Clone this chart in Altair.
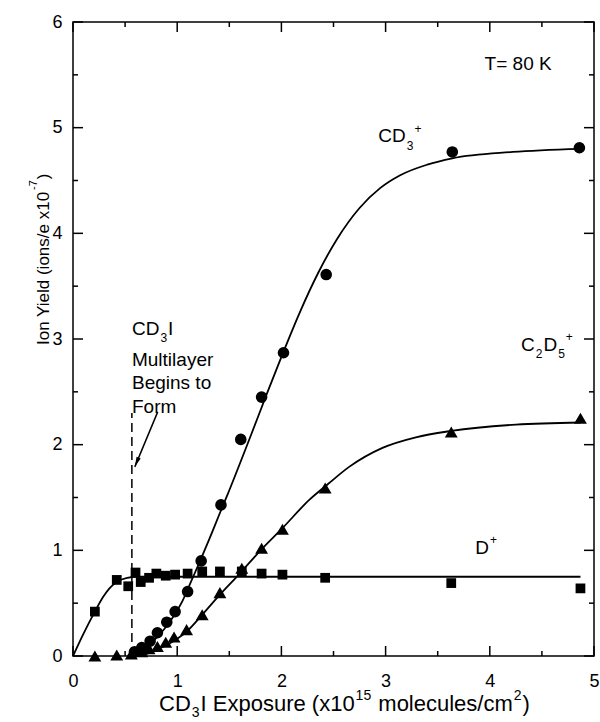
import math
import altair as alt
import pandas as pd

FONT = "Liberation Sans"

# ---------------- data ----------------
# CD3+ (circles)
cd3_x = [0.59, 0.66, 0.74, 0.81, 0.90, 0.98, 1.10, 1.23, 1.42, 1.61, 1.81, 2.02, 2.43, 3.64, 4.86]
cd3_y = [0.04, 0.08, 0.14, 0.22, 0.32, 0.42, 0.61, 0.90, 1.43, 2.05, 2.45, 2.87, 3.61, 4.77, 4.81]
# C2D5+ (triangles)
c2d5_x = [0.21, 0.42, 0.56, 0.66, 0.73, 0.81, 0.89, 0.97, 1.09, 1.24, 1.41, 1.62, 1.81, 2.01, 2.42, 3.63, 4.87]
c2d5_y = [0.00, 0.01, 0.02, 0.04, 0.07, 0.09, 0.13, 0.18, 0.25, 0.39, 0.60, 0.83, 1.02, 1.20, 1.59, 2.12, 2.25]
# D+ (squares)
dp_x = [0.21, 0.42, 0.53, 0.60, 0.65, 0.73, 0.80, 0.89, 0.98, 1.10, 1.24, 1.41, 1.62, 1.81, 2.01, 2.42, 3.63, 4.87]
dp_y = [0.42, 0.72, 0.66, 0.79, 0.70, 0.74, 0.78, 0.76, 0.77, 0.78, 0.80, 0.80, 0.80, 0.78, 0.77, 0.74, 0.69, 0.64]

# fitted curves
cd3_fit_x = [0.55, 0.65, 0.77, 0.88, 0.96, 1.05, 1.14, 1.22, 1.31, 1.40, 1.48, 1.70, 1.86, 2.02, 2.18,
             2.35, 2.53, 2.75, 2.95, 3.14, 3.40, 3.64, 4.22, 4.86]
cd3_fit_y = [0.00, 0.04, 0.14, 0.26, 0.37, 0.52, 0.72, 0.90, 1.11, 1.33, 1.52, 2.07, 2.48, 2.88, 3.26,
             3.62, 3.94, 4.24, 4.43, 4.55, 4.65, 4.71, 4.77, 4.80]
c2d5_fit_x = [0.58, 0.70, 0.77, 0.85, 0.93, 1.01, 1.09, 1.24, 1.41, 1.60, 1.80, 2.01, 2.27, 2.45, 2.65,
              2.97, 3.29, 3.63, 4.25, 4.87]
c2d5_fit_y = [0.00, 0.02, 0.04, 0.08, 0.12, 0.17, 0.23, 0.39, 0.58, 0.78, 1.00, 1.21, 1.48, 1.63, 1.79,
              1.97, 2.07, 2.13, 2.19, 2.21]
dp_fit_x = [0.00, 0.10, 0.21, 0.29, 0.35, 0.42, 0.52, 0.62, 1.00, 2.00, 3.00, 4.87]
dp_fit_y = [0.00, 0.21, 0.42, 0.56, 0.64, 0.70, 0.74, 0.75, 0.75, 0.75, 0.75, 0.75]

# axis ticks
x_major = [0, 1, 2, 3, 4, 5]
x_minor = [0.5, 1.5, 2.5, 3.5, 4.5]
y_major = [0, 1, 2, 3, 4, 5, 6]
y_minor = [0.5, 1.5, 2.5, 3.5, 4.5, 5.5]

# multilayer marker and arrow (data units)
multilayer_x = 0.565
multilayer_top = 2.30
arrow_from = (0.813, 2.31)
arrow_to = (0.593, 1.79)

# annotation anchors (data units, left/baseline)
t_label = ("T= 80 K", 3.95, 5.55)
cd3_label = (2.93, 4.86)
c2d5_label = (4.30, 2.89)
dp_label = (3.86, 0.97)
note_x = 0.566
note_lines_y = [3.04, 2.74, 2.53, 2.30]

# ---------------- layout ----------------
W, H = 521, 634
PAD = {"left": 73, "top": 22, "right": 6, "bottom": 66}

AW = {' ': 278, '(': 333, ')': 333, '/': 278, '-': 333, '+': 584, '=': 584,
      'C': 722, 'D': 722, 'E': 667, 'F': 611, 'I': 278, 'K': 667, 'M': 833, 'T': 611, 'Y': 667, 'B': 667,
      'a': 556, 'b': 556, 'c': 500, 'd': 556, 'e': 556, 'f': 278, 'g': 556, 'h': 556, 'i': 222,
      'l': 222, 'm': 833, 'n': 556, 'o': 556, 'p': 556, 'r': 333, 's': 500, 't': 278, 'u': 556,
      'x': 500, 'y': 500}


def tw(s, fs):
    return sum(AW.get(c, 556) for c in s) * fs / 1000.0


def rich(parts, fs, ss, sub=0.38, sup=0.5, gap=1.0):
    out, pos, prev = [], 0.0, 'n'
    for t, m in parts:
        if m != prev:
            pos += gap
        if m == 'n':
            size, off = fs, 0.0
        elif m == 'sub':
            size, off = ss, sub * fs
        else:
            size, off = ss, -sup * fs
        lead = len(t) - len(t.lstrip(' '))
        core = t.strip(' ')
        trail = len(t) - lead - len(core)
        pos += tw(' ' * lead, size)
        out.append((core, pos, off, size))
        pos += tw(core, size) + tw(' ' * trail, size)
        prev = m
    return out


xs = alt.Scale(domain=[0, 5], nice=False, zero=False)
ys = alt.Scale(domain=[0, 6], nice=False, zero=False)
xaxis = alt.Axis(values=x_major, labelFont=FONT, labelFontSize=18, labelColor="black",
                 labelPadding=16, ticks=False, tickSize=0, domain=False, grid=False,
                 labelFlush=False, labelOverlap=False, format="d", title=None)
yaxis = alt.Axis(values=y_major, labelFont=FONT, labelFontSize=18, labelColor="black",
                 labelPadding=11, ticks=False, tickSize=0, domain=False, grid=False,
                 labelFlush=False, labelOverlap=False, format="d", title=None)


def X(f="x"):
    return alt.X(f + ":Q", scale=xs, axis=xaxis)


def Y(f="y"):
    return alt.Y(f + ":Q", scale=ys, axis=yaxis)


layers = []

# fitted curves
for fx, fy in [(cd3_fit_x, cd3_fit_y), (c2d5_fit_x, c2d5_fit_y), (dp_fit_x, dp_fit_y)]:
    layers.append(alt.Chart(pd.DataFrame({"x": fx, "y": fy})).mark_line(
        color="black", strokeWidth=1.8, interpolate="monotone").encode(x=X(), y=Y()))

# points
for px, py, shape, size in [(cd3_x, cd3_y, "circle", 135),
                            (c2d5_x, c2d5_y, "triangle-up", 165),
                            (dp_x, dp_y, "square", 95)]:
    layers.append(alt.Chart(pd.DataFrame({"x": px, "y": py})).mark_point(
        shape=shape, filled=True, size=size, color="black", opacity=1, strokeWidth=0).encode(x=X(), y=Y()))

# dashed multilayer marker
layers.append(alt.Chart(pd.DataFrame({"x": [multilayer_x], "y": [0.0], "y2": [multilayer_top]})).mark_rule(
    color="black", strokeWidth=1.5, strokeDash=[9, 5]).encode(x=X(), y=Y(), y2="y2:Q"))

# arrow
layers.append(alt.Chart(pd.DataFrame({"x": [arrow_from[0]], "y": [arrow_from[1]],
                                      "x2": [arrow_to[0]], "y2": [arrow_to[1]]})).mark_rule(
    color="black", strokeWidth=1.5).encode(x=X(), y=Y(), x2="x2:Q", y2="y2:Q"))
ddx = (arrow_to[0] - arrow_from[0]) * W / 5.0
ddy = -(arrow_to[1] - arrow_from[1]) * H / 6.0
ang = math.degrees(math.atan2(ddx, -ddy)) % 360
layers.append(alt.Chart(pd.DataFrame({"x": [arrow_to[0]], "y": [arrow_to[1]]})).mark_point(
    shape="M0,0L0.45,2L-0.45,2Z", filled=True, size=100, color="black", opacity=1,
    strokeWidth=0, angle=ang).encode(x=X(), y=Y()))

# ticks (inward, all four sides)
for vals, ln in [(x_major, 10), (x_minor, 5)]:
    d = pd.DataFrame({"x": vals})
    layers.append(alt.Chart(d).mark_rule(color="black", strokeWidth=1.5).encode(
        x=X(), y=alt.value(H), y2=alt.value(H - ln)))
    layers.append(alt.Chart(d).mark_rule(color="black", strokeWidth=1.5).encode(
        x=X(), y=alt.value(0), y2=alt.value(ln)))
for vals, ln in [(y_major, 10), (y_minor, 5)]:
    d = pd.DataFrame({"y": vals})
    layers.append(alt.Chart(d).mark_rule(color="black", strokeWidth=1.5).encode(
        y=Y(), x=alt.value(0), x2=alt.value(ln)))
    layers.append(alt.Chart(d).mark_rule(color="black", strokeWidth=1.5).encode(
        y=Y(), x=alt.value(W), x2=alt.value(W - ln)))


def data_text(parts, ax, ay, fs=19, ss=12, **kw):
    for t, pos, off, size in rich(parts, fs, ss, **kw):
        layers.append(alt.Chart(pd.DataFrame({"x": [ax], "y": [ay], "t": [t]})).mark_text(
            align="left", baseline="alphabetic", dx=pos, dy=off, font=FONT, fontSize=size,
            color="black").encode(x=X(), y=Y(), text="t:N"))


data_text([(t_label[0], 'n')], t_label[1], t_label[2])
data_text([("CD", 'n'), ("3", 'sub'), ("+", 'sup')], *cd3_label)
data_text([("C", 'n'), ("2", 'sub'), ("D", 'n'), ("5", 'sub'), ("+", 'sup')], *c2d5_label)
data_text([("D", 'n'), ("+", 'sup')], *dp_label)
data_text([("CD", 'n'), ("3", 'sub'), ("I", 'n')], note_x, note_lines_y[0])
data_text([("Multilayer", 'n')], note_x, note_lines_y[1])
data_text([("Begins to", 'n')], note_x, note_lines_y[2])
data_text([("Form", 'n')], note_x, note_lines_y[3])

# x-axis title (pixel placement below the plot)
xt_parts = [("CD", 'n'), ("3", 'sub'), ("I Exposure (x10", 'n'), ("15", 'sup'),
            (" molecules/cm", 'n'), ("2", 'sup'), (")", 'n')]
for t, pos, off, size in rich(xt_parts, 22, 14, sub=0.25, sup=0.52):
    layers.append(alt.Chart(pd.DataFrame({"t": [t]})).mark_text(
        align="left", baseline="alphabetic", font=FONT, fontSize=size, color="black").encode(
        x=alt.value(86 + pos), y=alt.value(689 + off), text="t:N"))

# y-axis title (rotated, reading upward)
yt_parts = [("Ion Yield (ions/e x10", 'n'), ("-7", 'sup'), (")", 'n')]
for t, pos, off, size in rich(yt_parts, 17, 11, sup=0.7):
    layers.append(alt.Chart(pd.DataFrame({"t": [t]})).mark_text(
        align="left", baseline="alphabetic", angle=270, font=FONT, fontSize=size, color="black").encode(
        x=alt.value(-24 + off), y=alt.value(323 - pos), text="t:N"))

chart = alt.layer(*layers).properties(
    width=W, height=H, padding=PAD, autosize=alt.AutoSizeParams(type="none"),
    background="white",
).configure_view(stroke="black", strokeWidth=1.5)

chart.save("out.html", embed_options={"renderer": "svg", "actions": False})
